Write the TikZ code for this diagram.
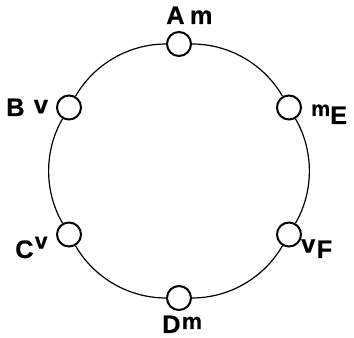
\documentclass[tikz,border=0pt]{standalone}
\usepackage{fontspec}
\setmainfont{Liberation Sans}[FakeBold=0.5]
\begin{document}
\begin{tikzpicture}[x=0.75pt,y=0.75pt,
    port/.style={circle,draw,line width=1.5pt,fill=white,minimum size=18pt,inner sep=0pt},
    ring/.style={line width=0.9pt,bend right=30,looseness=0.91},
    tag/.style={anchor=base west,inner sep=0pt,font=\fontsize{19}{22}\selectfont\bfseries}]
  \useasboundingbox (0,0) rectangle (354,338);
  % six ports on the ring
  \coordinate (o) at (179,167);
  \node[port] (a) at ([shift={(90:127)}]o) {};
  \node[port] (b) at ([shift={(150:127)}]o) {};
  \node[port] (c) at ([shift={(210:127)}]o) {};
  \node[port] (d) at ([shift={(270:127)}]o) {};
  \node[port] (f) at ([shift={(330:127)}]o) {};
  \node[port] (e) at ([shift={(30:127)}]o) {};
  % ring between the ports
  \draw[ring] (e) to (a);
  \draw[ring] (a) to (b);
  \draw[ring] (b) to (c);
  \draw[ring] (c) to (d);
  \draw[ring] (d) to (f);
  \draw[ring] (f) to (e);
  % labels
  \node[tag] (la) at (166,314) {A\hspace{4pt}m};
  \node[tag] (lb) at (6,222) {B\hspace{7pt}\raisebox{2pt}{v}};
  \node[tag] (lc) at (15,80) {C\hspace{1pt}\raisebox{7pt}{\fontsize{17}{18}\selectfont v}};
  \node[tag] (ld) at (162,5) {D\hspace{1pt}\raisebox{3pt}{\fontsize{17}{18}\selectfont m}};
  \node[tag] (le) at (311,214) {\raisebox{6pt}{\fontsize{16}{18}\selectfont m}E};
  \node[tag] (lf) at (301,80) {\raisebox{4pt}{v}\hspace{1pt}F};
\end{tikzpicture}
\end{document}
